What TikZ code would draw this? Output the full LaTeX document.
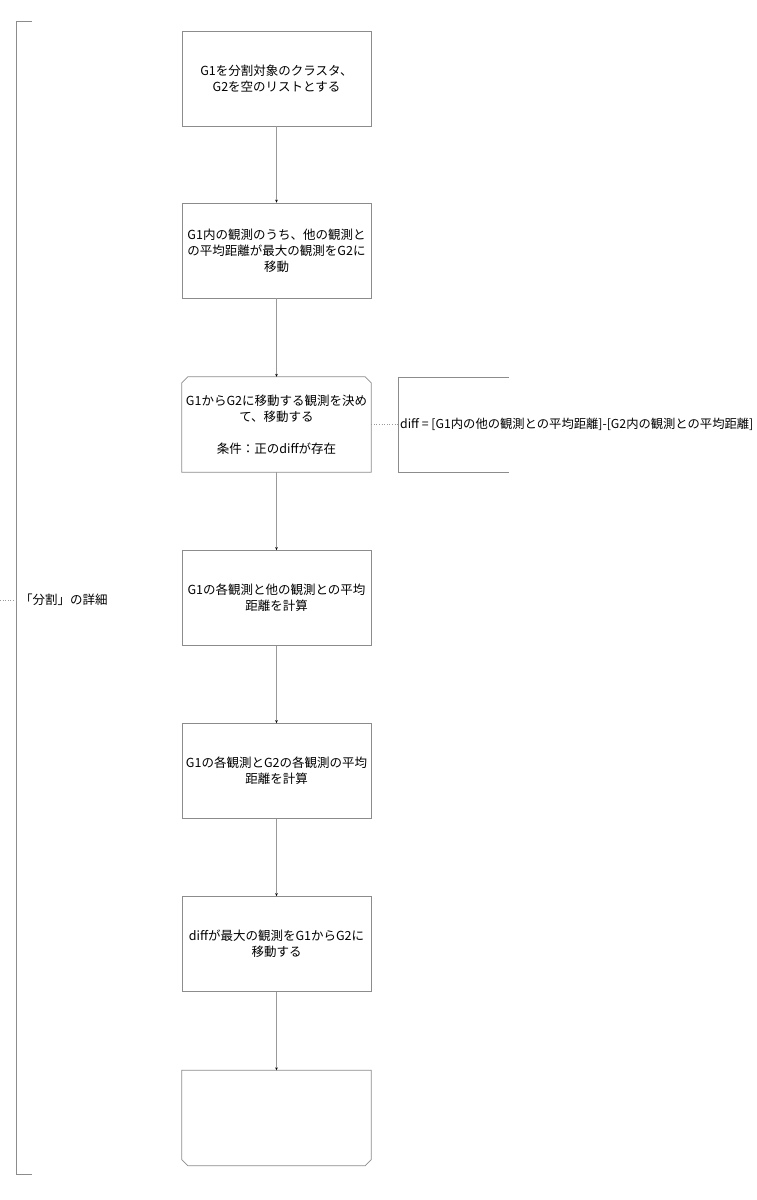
\documentclass[tikz,border=0pt]{standalone}
\usepackage{fontspec}
\setmainfont{Noto Sans CJK JP}
\usetikzlibrary{arrows.meta}
\tikzset{
  boxline/.style={draw=black!45, line width=0.7pt},
  stepbox/.style={boxline, minimum width=189pt, minimum height=95pt, inner sep=2pt, align=center, font=\fontsize{12.5}{16}\selectfont},
  plainbox/.style={minimum width=189pt, minimum height=95pt, inner sep=2pt, align=center, font=\fontsize{12.5}{16}\selectfont},
  flow/.style={draw=black!40, line width=0.6pt, -{Stealth[length=3pt,width=2.6pt,black]}},
  note/.style={draw=black!40, line width=0.6pt, dotted},
  lbl/.style={font=\fontsize{12.5}{16}\selectfont, inner sep=1pt}
}
\begin{document}
\begin{tikzpicture}[x=1pt,y=-1pt]
\useasboundingbox (0,0) rectangle (757,1200);
\fill[white] (0,0) rectangle (757,1200);

\node[stepbox] (b1) at (276.5,78.5) {G1を分割対象のクラスタ、\\G2を空のリストとする};
\node[stepbox] (b2) at (276.5,250.5) {G1内の観測のうち、他の観測と\\の平均距離が最大の観測をG2に\\移動};
\node[plainbox] (b3) at (276.5,424.5) {G1からG2に移動する観測を決め\\て、移動する\\[16pt]条件：正のdiffが存在};
\node[stepbox] (b4) at (276.5,598) {G1の各観測と他の観測との平均\\距離を計算};
\node[stepbox] (b5) at (276.5,771) {G1の各観測とG2の各観測の平均\\距離を計算};
\node[stepbox] (b6) at (276.5,944) {diffが最大の観測をG1からG2に\\移動する};
\node[plainbox] (b7) at (276.5,1118) {};

% loop start: chamfered top corners
\draw[boxline] (b3.south west) -- ([yshift=-6pt]b3.north west) -- ([xshift=6pt]b3.north west)
  -- ([xshift=-6pt]b3.north east) -- ([yshift=-6pt]b3.north east) -- (b3.south east) -- cycle;
% loop end: chamfered bottom corners
\draw[boxline] (b7.north west) -- ([yshift=6pt]b7.south west) -- ([xshift=6pt]b7.south west)
  -- ([xshift=-6pt]b7.south east) -- ([yshift=6pt]b7.south east) -- (b7.north east) -- cycle;

\draw[flow] (b1) -- (b2);
\draw[flow] (b2) -- (b3);
\draw[flow] (b3) -- (b4);
\draw[flow] (b4) -- (b5);
\draw[flow] (b5) -- (b6);
\draw[flow] (b6) -- (b7);

% annotation on loop condition
\coordinate (a1) at (509,377);
\coordinate (a2) at (398,377);
\coordinate (a3) at (398,472);
\coordinate (a4) at (509,472);
\draw[boxline] (a1) -- (a2) -- (a3) -- (a4);
\node[lbl, anchor=west, font=\fontsize{12.3}{16}\selectfont] (anote) at (399,424.5) {diff = [G1内の他の観測との平均距離]-[G2内の観測との平均距離]};
\draw[note] (b3.east) -- (anote.west);

% left bracket
\coordinate (l1) at (32,21);
\coordinate (l2) at (16,21);
\coordinate (l3) at (16,1174);
\coordinate (l4) at (32,1174);
\draw[boxline] (l1) -- (l2) -- (l3) -- (l4);
\node[lbl, anchor=west] (lnote) at (19,600) {「分割」の詳細};
\coordinate (lend) at (0,600);
\draw[note] (lend) -- (16,600);
\end{tikzpicture}
\end{document}
